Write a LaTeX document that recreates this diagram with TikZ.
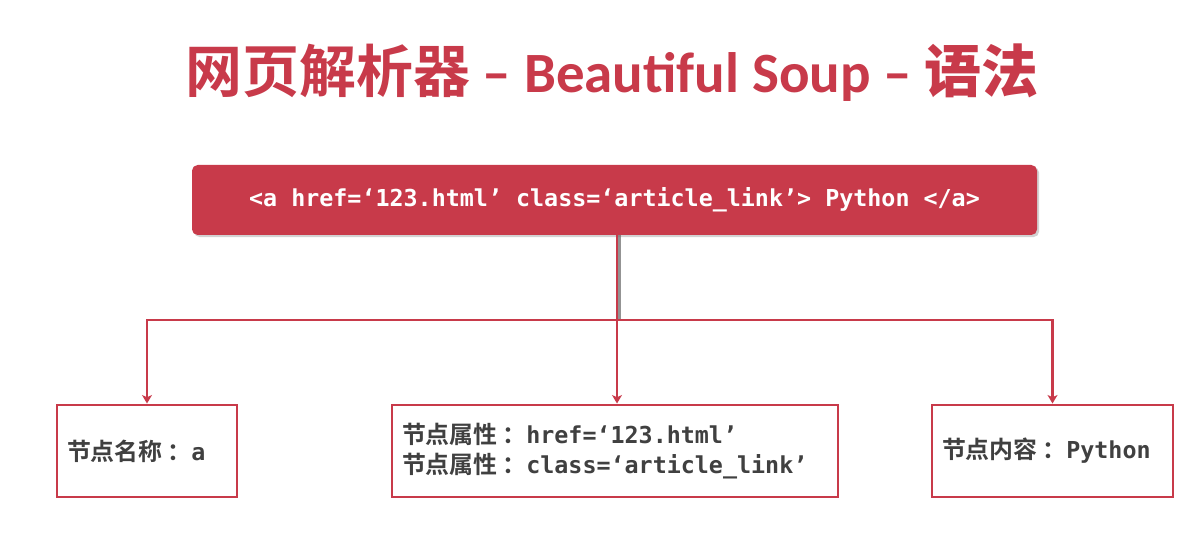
\documentclass[tikz,border=0pt]{standalone}
\usepackage{fontspec}
\usetikzlibrary{arrows.meta,shadows}
\newfontfamily\cjk{Noto Sans CJK SC Bold}
\newfontfamily\titlelatin{Carlito}[BoldFont={Carlito Bold}]
\newfontfamily\codefont{DejaVu Sans Mono}[BoldFont={DejaVu Sans Mono Bold}]
\definecolor{soupred}{RGB}{200,58,74}
\definecolor{labelgray}{RGB}{64,64,64}
\tikzset{
  codebox/.style={fill=soupred,rounded corners=4pt,minimum width=845*0.025cm,
    minimum height=70*0.025cm,text=white,font=\codefont\bfseries\fontsize{16.6}{19}\selectfont,
    drop shadow={shadow xshift=1.5pt,shadow yshift=-1.5pt,fill=black!35,opacity=0.5}},
  partbox/.style={draw=soupred,line width=2.1pt,fill=white,minimum height=92*0.025cm,
    inner xsep=10*0.025cm,align=left,text=labelgray,font=\cjk\fontsize{17}{21}\selectfont,
    drop shadow={shadow xshift=1pt,shadow yshift=-1pt,fill=black!30,opacity=0.4}},
  link/.style={draw=soupred,line width=2pt,-{Stealth[length=6pt,width=7pt,inset=1.5pt]}},
  trunk/.style={draw=soupred,line width=2pt},
  trunkshadow/.style={draw=black!60,line width=2.2pt,opacity=0.7}
}
\newcommand{\cd}[1]{{\codefont\bfseries\fontsize{16.6}{21}\selectfont #1}}
\newcommand{\fc}{{\kern.2em：}}

\begin{document}
\begin{tikzpicture}[x=0.025cm,y=-0.025cm]
  \fill[white](0,0)rectangle(1203,557);
  \useasboundingbox(0,0)rectangle(1203,557);

  \node[text=soupred,font=\fontsize{40.5}{46}\selectfont] (title) at (612,73)
    {\cjk 网页解析器\titlelatin\bfseries{} – Beautiful Soup – \cjk 语法};

  \node[codebox] (tag) at (614.5,200) {<a href=‘123.html’ class=‘article\_link’> Python </a>};

  \node[partbox,text width=160*0.025cm] (name) at (147,451) {节点名称\fc\cd{a}};
  \node[partbox,text width=426*0.025cm] (attr) at (615,451)
    {节点属性\fc\cd{href=‘123.html’}\\节点属性\fc\cd{class=‘article\_link’}};
  \node[partbox,text width=221*0.025cm] (content) at (1052.5,451) {节点内容\fc\cd{Python}};

  \coordinate (bus) at (617,320);
  \draw[trunkshadow] ([xshift=2]tag.south -| bus) -- ([xshift=2]bus);
  \draw[trunk] (tag.south -| bus) -- (bus);
  \draw[link] (bus) -| (name.north);
  \draw[link] (bus) -- (bus |- attr.north);
  \draw[link] (bus) -| (content.north);
\end{tikzpicture}
\end{document}
